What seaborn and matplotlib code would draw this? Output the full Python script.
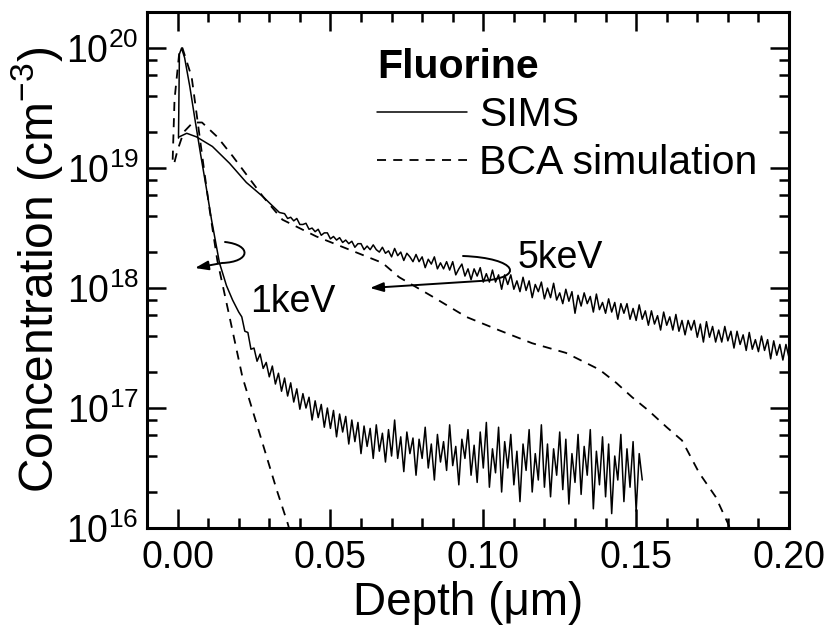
import numpy as np
import pandas as pd
import matplotlib
matplotlib.use("Agg")
import matplotlib.pyplot as plt
import seaborn as sns
from matplotlib.lines import Line2D
from matplotlib.patches import FancyArrowPatch
from matplotlib.path import Path
from matplotlib.ticker import MultipleLocator, FormatStrFormatter, LogLocator, LogFormatterMathtext, NullFormatter

# ---------------- data (log10 of concentration, cm^-3) ----------------
# 1 keV SIMS: smooth head
sims1_x_head = [0.0003, 0.0006, 0.0013, 0.0023, 0.0040, 0.0056, 0.0075, 0.0095, 0.0111, 0.0137, 0.0160, 0.0180, 0.0200]
sims1_log_head = [19.25, 19.95, 20.00, 19.92, 19.68, 19.42, 19.12, 18.82, 18.57, 18.21, 18.02, 17.90, 17.80]
# 1 keV SIMS: noisy tail, one value every 0.001 um from 0.021 to 0.152
sims1_tail_start = 0.021
sims1_log_tail = [
    17.76, 17.64, 17.63, 17.49, 17.50, 17.39, 17.45, 17.33, 17.38, 17.26,
    17.35, 17.20, 17.29, 17.14, 17.25, 17.10, 17.21, 17.05, 17.16, 16.99,
    17.12, 17.00, 17.09, 16.90, 17.06, 16.92, 17.03, 16.84, 17.00, 16.83,
    16.98, 16.76, 16.95, 16.80, 16.93, 16.70, 16.90, 16.72, 16.88, 16.62,
    16.85, 16.68, 16.83, 16.58, 16.86, 16.64, 16.79, 16.55, 16.82, 16.60,
    16.90, 16.58, 16.76, 16.47, 16.80, 16.62, 16.75, 16.44, 16.74, 16.58,
    16.84, 16.50, 16.70, 16.40, 16.78, 16.55, 16.72, 16.48, 16.86, 16.52,
    16.68, 16.36, 16.74, 16.58, 16.82, 16.44, 16.69, 16.38, 16.80, 16.50,
    16.88, 16.34, 16.66, 16.46, 16.84, 16.30, 16.72, 16.50, 16.78, 16.36,
    16.64, 16.22, 16.70, 16.48, 16.82, 16.30, 16.62, 16.40, 16.86, 16.34,
    16.70, 16.26, 16.66, 16.44, 16.80, 16.32, 16.74, 16.20, 16.62, 16.38,
    16.78, 16.28, 16.68, 16.44, 16.82, 16.16, 16.64, 16.36, 16.76, 16.26,
    16.70, 16.12, 16.60, 16.40, 16.78, 16.22, 16.66, 16.34, 16.72, 16.14,
    16.62, 16.40,
]

# 5 keV SIMS: smooth head
sims5_x_head = [0.0005, 0.0030, 0.0062, 0.0114, 0.0170, 0.0225, 0.0280, 0.0333]
sims5_log_head = [19.26, 19.29, 19.26, 19.18, 19.04, 18.88, 18.76, 18.63]
# 5 keV SIMS: noisy tail, one value every 0.001 um from 0.035 to 0.200
sims5_tail_start = 0.035
sims5_log_tail = [
    18.62, 18.58, 18.59, 18.56, 18.58, 18.53, 18.53, 18.54, 18.49, 18.50,
    18.47, 18.49, 18.44, 18.46, 18.46, 18.41, 18.43, 18.40, 18.42, 18.38,
    18.40, 18.37, 18.39, 18.34, 18.37, 18.37, 18.32, 18.35, 18.32, 18.36,
    18.32, 18.30, 18.34, 18.29, 18.31, 18.26, 18.33, 18.27, 18.30, 18.23,
    18.29, 18.26, 18.22, 18.28, 18.22, 18.26, 18.17, 18.24, 18.20, 18.26,
    18.16, 18.21, 18.16, 18.22, 18.15, 18.22, 18.11, 18.16, 18.20, 18.10,
    18.16, 18.07, 18.16, 18.10, 18.17, 18.05, 18.12, 18.05, 18.15, 18.05,
    18.11, 17.99, 18.11, 18.03, 18.11, 17.99, 18.06, 17.97, 18.09, 17.98,
    18.06, 17.92, 18.03, 17.97, 18.05, 17.91, 18.00, 17.92, 18.04, 17.90,
    17.96, 17.87, 17.99, 17.89, 17.97, 17.79, 17.94, 17.85, 17.96, 17.87,
    17.93, 17.80, 17.95, 17.82, 17.88, 17.79, 17.91, 17.80, 17.88, 17.74,
    17.87, 17.79, 17.87, 17.74, 17.83, 17.73, 17.86, 17.74, 17.81, 17.69,
    17.81, 17.70, 17.77, 17.65, 17.80, 17.69, 17.76, 17.65, 17.78, 17.64,
    17.73, 17.61, 17.73, 17.65, 17.73, 17.59, 17.70, 17.55, 17.72, 17.59,
    17.68, 17.55, 17.65, 17.55, 17.68, 17.56, 17.64, 17.50, 17.64, 17.53,
    17.61, 17.48, 17.63, 17.49, 17.57, 17.47, 17.60, 17.48, 17.57, 17.41,
    17.56, 17.44, 17.53, 17.40, 17.53, 17.42,
]

# BCA simulations
bca1_x = [-0.0016, -0.0010, 0.0007, 0.0016, 0.0046, 0.0065, 0.0088, 0.0105, 0.0130,
          0.0170, 0.0212, 0.0268, 0.0324, 0.0360, 0.0370]
bca1_log = [19.07, 19.57, 20.00, 20.00, 19.76, 19.40, 18.96, 18.65, 18.23,
            17.76, 17.26, 16.79, 16.32, 16.04, 15.95]

bca5_x = [-0.0010, 0.0000, 0.0020, 0.0050, 0.0080, 0.0130, 0.0180, 0.0230, 0.0280,
          0.0343, 0.0454, 0.0562, 0.0670, 0.0725, 0.0833, 0.0944, 0.1050, 0.1160,
          0.1270, 0.1380, 0.1435, 0.1487, 0.1540, 0.1600, 0.1650, 0.1706, 0.1760,
          0.1800, 0.1815]
bca5_log = [19.05, 19.15, 19.30, 19.38, 19.38, 19.26, 19.10, 18.93, 18.76,
            18.57, 18.43, 18.32, 18.21, 18.09, 17.93, 17.76, 17.65, 17.54,
            17.46, 17.32, 17.21, 17.09, 16.98, 16.84, 16.73, 16.46, 16.26,
            16.04, 15.95]

legend_title = "Fluorine"
legend_labels = ["SIMS", "BCA simulation"]
energy_labels = ["1keV", "5keV"]

# ---------------- assemble ----------------
def series(name, xs, logs):
    return pd.DataFrame({"depth": xs, "conc": np.power(10.0, logs), "series": name})

sims1_x = list(sims1_x_head) + [round(sims1_tail_start + 0.001 * i, 4) for i in range(len(sims1_log_tail))]
sims5_x = list(sims5_x_head) + [round(sims5_tail_start + 0.001 * i, 4) for i in range(len(sims5_log_tail))]

df = pd.concat([
    series("SIMS 1keV", sims1_x, list(sims1_log_head) + sims1_log_tail),
    series("SIMS 5keV", sims5_x, list(sims5_log_head) + sims5_log_tail),
    series("BCA 1keV", bca1_x, bca1_log),
    series("BCA 5keV", bca5_x, bca5_log),
], ignore_index=True)

# ---------------- style ----------------
sns.set_theme(style="ticks")
plt.rcParams["font.family"] = ["Liberation Sans", "DejaVu Sans"]
plt.rcParams["mathtext.fontset"] = "custom"
plt.rcParams["mathtext.rm"] = "Liberation Sans"
plt.rcParams["mathtext.it"] = "Liberation Sans:italic"
plt.rcParams["mathtext.bf"] = "Liberation Sans:bold"
for k in ["text.color", "axes.labelcolor", "xtick.color", "ytick.color", "axes.edgecolor"]:
    plt.rcParams[k] = "black"

fig = plt.figure(figsize=(8.33, 6.27), dpi=100)
ax = fig.add_axes([147 / 833, 1 - 528 / 627, 642 / 833, 516 / 627])

DASH = (5, 4)
for name, ls in [("SIMS 1keV", "-"), ("SIMS 5keV", "-"), ("BCA 1keV", "--"), ("BCA 5keV", "--")]:
    sub = df[df["series"] == name]
    kw = dict(color="black", linewidth=1.1 if ls == "-" else 1.3)
    if ls == "--":
        kw["dashes"] = DASH
    sns.lineplot(data=sub, x="depth", y="conc", ax=ax, sort=False, estimator=None, **kw)

ax.set_yscale("log")
ax.set_xlim(-0.01, 0.20)
ax.set_ylim(1e16, 2e20)

ax.xaxis.set_major_locator(MultipleLocator(0.05))
ax.xaxis.set_minor_locator(MultipleLocator(0.01))
ax.xaxis.set_major_formatter(FormatStrFormatter("%.2f"))
ax.yaxis.set_major_locator(LogLocator(base=10, numticks=12))
ax.yaxis.set_minor_locator(LogLocator(base=10, subs=(2, 4, 6, 8), numticks=12))
ax.yaxis.set_major_formatter(LogFormatterMathtext())
ax.yaxis.set_minor_formatter(NullFormatter())

ax.tick_params(which="both", direction="in", top=True, right=True, width=1.8, colors="black")
ax.tick_params(which="major", length=14, labelsize=27)
ax.tick_params(which="minor", length=7)
ax.tick_params(axis="x", which="major", pad=9)
ax.tick_params(axis="y", which="major", pad=6)
for sp in ax.spines.values():
    sp.set_linewidth(2.2)
    sp.set_color("black")

ax.set_xlabel("Depth (\u03bcm)", fontsize=33, labelpad=3)
ax.set_ylabel("Concentration (cm$^{-3}$)", fontsize=34.5, labelpad=1)
ax.grid(False)

# legend
handles = [Line2D([], [], color="black", linewidth=1.1),
           Line2D([], [], color="black", linewidth=1.3, dashes=DASH)]
leg = ax.legend(handles, legend_labels, title=legend_title, loc="upper left",
                bbox_to_anchor=((377 - 147) / 642, (528 - 48) / 516),
                frameon=False, fontsize=29.5, handlelength=2.2, handletextpad=0.3,
                labelspacing=0.25, borderpad=0, borderaxespad=0, alignment="left",
                title_fontproperties={"weight": "bold", "size": 29.5})

# energy labels
ax.text((250 - 147) / 642, (528 - 312) / 516, energy_labels[0], transform=ax.transAxes,
        fontsize=27, ha="left", va="baseline")
ax.text((518 - 147) / 642, (528 - 268) / 516, energy_labels[1], transform=ax.transAxes,
        fontsize=27, ha="left", va="baseline")

def hook(pts):
    verts = [((px - 147) / 642, (528 - py) / 516) for px, py in pts]
    codes = [Path.MOVETO, Path.CURVE4, Path.CURVE4, Path.CURVE4, Path.LINETO]
    p = FancyArrowPatch(path=Path(verts, codes), arrowstyle="-|>,head_length=1.0,head_width=0.35",
                        mutation_scale=8, transform=ax.transAxes, color="black", linewidth=1.4)
    ax.add_patch(p)

hook([(225, 242), (252, 245), (251, 262), (222, 263), (195, 268)])
hook([(463, 256), (517, 258), (527, 278), (480, 281), (370, 288)])

fig.savefig("out.png", dpi=100)
